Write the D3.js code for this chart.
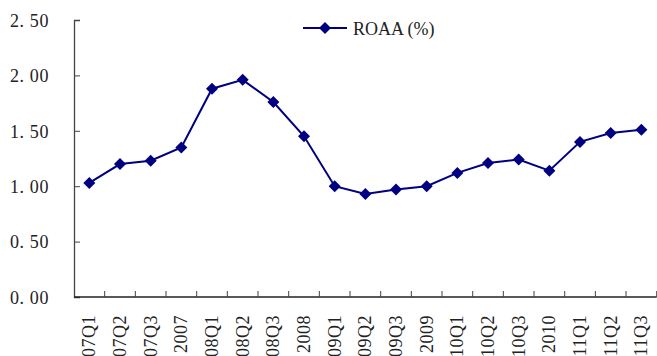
<!DOCTYPE html>
<html>
<head>
<meta charset="utf-8">
<script src="https://cdn.jsdelivr.net/npm/d3@7"></script>
<style>
  body { margin: 0; background: #fff; }
  text { font-family: "Liberation Serif", "DejaVu Serif", serif; fill: #222; }
</style>
</head>
<body>
<div id="chart"></div>
<script>
const categories = ['07Q1', '07Q2', '07Q3', '2007', '08Q1', '08Q2', '08Q3', '2008',
    '09Q1', '09Q2', '09Q3', '2009', '10Q1', '10Q2', '10Q3', '2010', '11Q1', '11Q2', '11Q3'];
const roaa = [1.03, 1.20, 1.23, 1.35, 1.88, 1.96, 1.76, 1.45,
    1.00, 0.93, 0.97, 1.00, 1.12, 1.21, 1.24, 1.14, 1.40, 1.48, 1.51];
const yTicks = [0, 0.5, 1.0, 1.5, 2.0, 2.5];
const seriesName = 'ROAA (%)';

const margin = { top: 20, right: 0, bottom: 59, left: 74 },
    width = 657 - margin.left - margin.right,
    height = 356 - margin.top - margin.bottom;

const svg = d3.select('#chart')
    .append('svg')
    .attr('width', 657)
    .attr('height', 356)
    .append('g')
    .attr('transform', 'translate(' + margin.left + ',' + margin.top + ')');

const xScale = d3.scaleBand()
    .domain(categories)
    .range([0, 582.7]);

const yScale = d3.scaleLinear()
    .domain([0, 2.5])
    .range([height, 0]);

// y axis, ticks inside
const yAxis = svg.append('g')
    .call(d3.axisRight(yScale).tickValues(yTicks).tickSize(6).tickFormat(d3.format('.2f')));
yAxis.select('.domain').attr('stroke', '#444').attr('stroke-width', 1.3);
yAxis.selectAll('.tick line').attr('stroke', '#444');
yAxis.selectAll('.tick text')
    .attr('x', -25)
    .attr('dy', '0.35em')
    .attr('text-anchor', 'end')
    .style('font-size', '18px')
    .style('letter-spacing', '0.6px')
    .style('fill', '#222')
    .text(d => d3.format('.2f')(d).replace('.', '. '));

// x axis line with boundary ticks pointing up
svg.append('line')
    .attr('x1', 0).attr('x2', xScale.range()[1])
    .attr('y1', height).attr('y2', height)
    .attr('stroke', '#222').attr('stroke-width', 1.5);

svg.selectAll('.xtick')
    .data(categories)
    .enter()
    .append('line')
    .attr('x1', d => xScale(d) + xScale.bandwidth())
    .attr('x2', d => xScale(d) + xScale.bandwidth())
    .attr('y1', height)
    .attr('y2', height - 6)
    .attr('stroke', '#444');

svg.selectAll('.xlabel')
    .data(categories)
    .enter()
    .append('text')
    .attr('transform', d => 'translate(' + (xScale(d) + xScale.bandwidth() / 2 + 6) + ',' + (height + 18) + ') rotate(-90)')
    .attr('text-anchor', 'end')
    .style('font-size', '18px')
    .style('letter-spacing', '0.5px')
    .text(d => d);

// line
const line = d3.line()
    .x(d => xScale(d[0]) + xScale.bandwidth() / 2)
    .y(d => yScale(d[1]));

const pts = categories.map((c, i) => [c, roaa[i]]);

svg.append('path')
    .datum(pts)
    .attr('d', line)
    .attr('fill', 'none')
    .attr('stroke', '#000080')
    .attr('stroke-width', 2);

const diamond = 'M0,-6L6,0L0,6L-6,0Z';

svg.selectAll('.marker')
    .data(pts)
    .enter()
    .append('path')
    .attr('d', diamond)
    .attr('transform', d => 'translate(' + (xScale(d[0]) + xScale.bandwidth() / 2) + ',' + yScale(d[1]) + ')')
    .attr('fill', '#000080');

// legend
const legend = svg.append('g')
    .attr('transform', 'translate(' + (303 - margin.left) + ',' + (28 - margin.top) + ')');
legend.append('line')
    .attr('x1', 0).attr('x2', 44)
    .attr('y1', 0).attr('y2', 0)
    .attr('stroke', '#000080').attr('stroke-width', 2);
legend.append('path')
    .attr('d', diamond)
    .attr('transform', 'translate(22,0)')
    .attr('fill', '#000080');
legend.append('text')
    .attr('x', 50)
    .attr('y', 7)
    .style('font-size', '18px')
    .text(seriesName);
</script>
</body>
</html>
